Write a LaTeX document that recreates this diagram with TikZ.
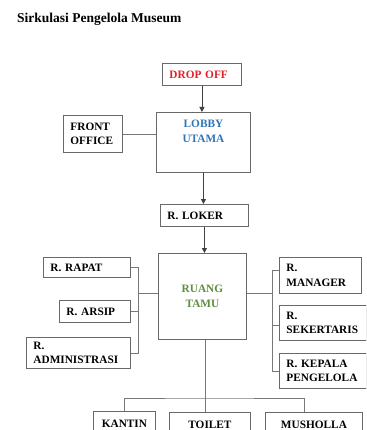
\documentclass[tikz,border=0pt]{standalone}
\usepackage{fontspec}
\setmainfont{Liberation Serif}
\usepackage{xcolor}
\definecolor{mpred}{RGB}{226,30,40}
\definecolor{mpblue}{RGB}{46,117,182}
\definecolor{mpgreen}{RGB}{96,140,62}
\definecolor{mpgray}{RGB}{105,105,105}
\usetikzlibrary{arrows.meta}

\tikzset{
  room/.style={draw=mpgray, line width=0.9pt, anchor=north west, inner xsep=7pt,
    inner ysep=0pt, align=left, font=\fontsize{11.3}{14.5}\selectfont\bfseries},
  link/.style={draw=mpgray!90, line width=0.8pt},
  flow/.style={draw=black!75, line width=0.8pt, -{Triangle[length=5pt,width=5pt]}},
}

\begin{document}
\begin{tikzpicture}[x=1pt, y=-1pt]
  \useasboundingbox (0,0) rectangle (366,430);
  \clip (0,0) rectangle (366,430);

  % Title
  \node[anchor=base west, inner sep=0pt, font=\fontsize{13.5}{16}\selectfont\bfseries]
       (title) at (17,22.5) {Sirkulasi Pengelola Museum};

  % --- Entrance column ---
  \node[room, text=mpred, text width=65, minimum height=22] (drop) at (162,63) {DROP OFF};
  \node[room, minimum width=94, minimum height=60,
        label={[anchor=north, yshift=-8pt, inner sep=0pt, align=center, text=mpblue,
                font=\fontsize{11.3}{14.5}\selectfont\bfseries]north:LOBBY\\UTAMA}]
       (lobby) at (156,112) {};
  \node[room, text width=45, minimum height=37] (front) at (63,115) {FRONT\\OFFICE};
  \node[room, text width=74, minimum height=22] (loker) at (160,204) {R. LOKER};
  \node[room, text=mpgreen, align=center, text width=74, minimum height=86]
       (tamu) at (158,253) {RUANG\\TAMU};

  % --- Left rooms ---
  \node[room, text width=73, minimum height=20] (rapat) at (43,257) {R. RAPAT};
  \node[room, text width=57, minimum height=22] (arsip) at (59,300) {R. ARSIP};
  \node[room, text width=90, minimum height=31] (admin) at (26,337) {R.\\ADMINISTRASI};

  % --- Right rooms ---
  \node[room, text width=68, minimum height=36] (manager) at (279,257) {R.\\MANAGER};
  \node[room, text width=73, minimum height=35] (sekertaris) at (279,305) {R.\\SEKERTARIS};
  \node[room, text width=73, minimum height=35] (kepala) at (279,353) {R. KEPALA\\PENGELOLA};

  % --- Bottom rooms (cut by the page edge) ---
  \node[room, align=center, text width=48, minimum height=24] (kantin) at (93,411) {KANTIN};
  \node[room, align=center, text width=67, minimum height=24] (toilet) at (169,412) {TOILET};
  \node[room, align=center, text width=83, minimum height=24] (musholla) at (265,412) {MUSHOLLA};

  % Flow arrows
  \draw[flow] (drop.south) -- (drop.south |- lobby.north);
  \draw[flow] (lobby.south) -- (lobby.south |- loker.north);
  \draw[flow] (loker.south) -- (loker.south |- tamu.north);
  \draw[link] (front.east) -- (front.east -| lobby.west);

  % Left bus
  \coordinate (lbus) at (138,293);
  \draw[link] (rapat.east) -- (rapat.east -| lbus) -- (admin.east -| lbus) -- (admin.east);
  \draw[link] (arsip.east) -- (arsip.east -| lbus);
  \draw[link] (tamu.west |- lbus) -- (lbus);

  % Right bus
  \coordinate (rbus) at (272,293);
  \draw[link] ([yshift=5pt]manager.west) -- ([yshift=5pt]manager.west -| rbus)
              -- (kepala.west -| rbus) -- (kepala.west);
  \draw[link] ([yshift=-2pt]sekertaris.west) -- ([yshift=-2pt]sekertaris.west -| rbus);
  \draw[link] (tamu.east |- rbus) -- (rbus);

  % Bottom bus
  \coordinate (bbus) at (205,398);
  \coordinate (bbusr) at (304,398);
  \draw[link] (tamu.south -| bbus) -- (toilet.north -| bbus);
  \draw[link] (kantin.north) |- (bbus) -- (bbusr) -- (bbusr |- musholla.north);
\end{tikzpicture}
\end{document}
